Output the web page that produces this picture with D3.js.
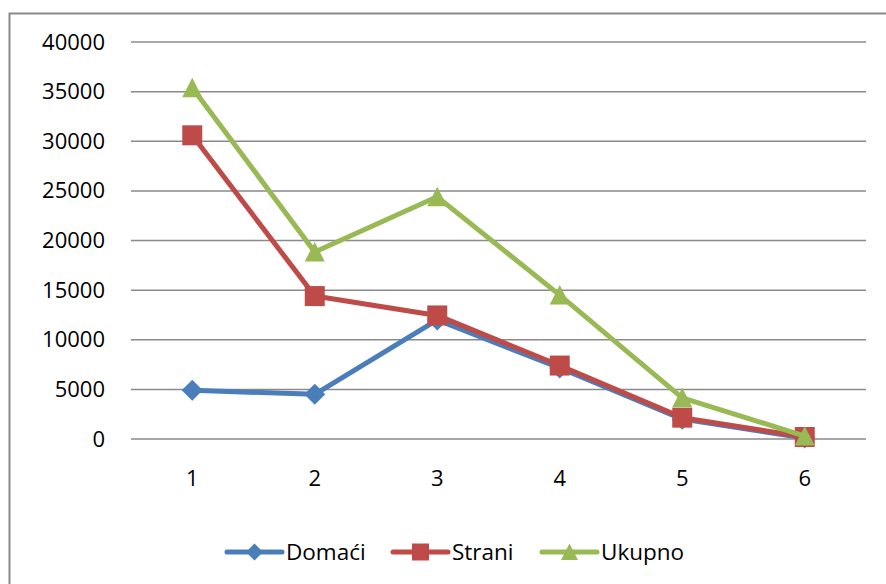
<!DOCTYPE html>
<html>
<head>
<meta charset="utf-8">
<script src="https://cdn.jsdelivr.net/npm/d3@7"></script>
<style>
  body { margin: 0; background: #fff; }
  text { font-family: "Open Sans", sans-serif; fill: #000; }
</style>
</head>
<body>
<div id="chart"></div>
<script>
// data
var categories = ["1", "2", "3", "4", "5", "6"];
var domaci = [4900, 4500, 12000, 7150, 2000, 100];
var strani = [30600, 14400, 12450, 7400, 2150, 200];
var ukupno = [35400, 18850, 24400, 14500, 4150, 300];
var yTicks = [0, 5000, 10000, 15000, 20000, 25000, 30000, 35000, 40000];

var series = [
  {name: "Domaći", values: domaci, color: "#4A7EBB", marker: "diamond"},
  {name: "Strani", values: strani, color: "#BE4B48", marker: "square"},
  {name: "Ukupno", values: ukupno, color: "#98B954", marker: "triangle"}
];

var W = 886, H = 584;
var margin = {top: 42, right: 20, bottom: 145, left: 131},
    width = 866 - margin.left,
    height = 439 - margin.top;

var svg = d3.select("#chart").append("svg")
    .attr("width", W)
    .attr("height", H);

// outer chart border (runs off the right and bottom)
svg.append("rect")
    .attr("x", 9.5).attr("y", 13.5)
    .attr("width", W).attr("height", H)
    .attr("fill", "none")
    .attr("stroke", "#898989")
    .attr("stroke-width", 2);

var g = svg.append("g")
    .attr("transform", "translate(" + margin.left + "," + margin.top + ")");

var x = d3.scaleBand().domain(categories).range([0, width]);
var y = d3.scaleLinear().domain([0, 40000]).range([height, 0]);

// gridlines
g.selectAll(".grid")
    .data(yTicks)
  .enter().append("line")
    .attr("class", "grid")
    .attr("x1", 0).attr("x2", width)
    .attr("y1", function(d) { return y(d); })
    .attr("y2", function(d) { return y(d); })
    .attr("stroke", "#8a8a8a")
    .attr("stroke-width", 1.5);

// y labels
var yAxis = d3.axisLeft(y).tickValues(yTicks).tickSize(0).tickPadding(26)
    .tickFormat(function(d) { return d; });
g.append("g").call(yAxis)
    .call(function(s) { s.select(".domain").remove(); })
    .selectAll("text")
    .style("font-size", "22px")
    .attr("fill", "#000");

// x labels
var xAxis = d3.axisBottom(x).tickSize(0).tickPadding(31);
g.append("g")
    .attr("transform", "translate(0," + height + ")")
    .call(xAxis)
    .call(function(s) { s.select(".domain").remove(); })
    .selectAll("text")
    .style("font-size", "22px")
    .attr("fill", "#000");

var cx = function(i) { return x(categories[i]) + x.bandwidth() / 2; };

function markerPath(type, size) {
  var h = size / 2;
  if (type === "diamond") return "M0," + (-h) + "L" + h + ",0L0," + h + "L" + (-h) + ",0Z";
  if (type === "square") return "M" + (-h) + "," + (-h) + "H" + h + "V" + h + "H" + (-h) + "Z";
  return "M0," + (-h) + "L" + h + "," + (h * 0.95) + "L" + (-h) + "," + (h * 0.95) + "Z";
}

var line = d3.line()
    .x(function(d, i) { return cx(i); })
    .y(function(d) { return y(d); });

series.forEach(function(s) {
  g.append("path")
      .datum(s.values)
      .attr("d", line)
      .attr("fill", "none")
      .attr("stroke", s.color)
      .attr("stroke-width", 5)
      .attr("stroke-linejoin", "round");

  g.selectAll(".m-" + s.marker)
      .data(s.values)
    .enter().append("path")
      .attr("class", "m-" + s.marker)
      .attr("transform", function(d, i) { return "translate(" + cx(i) + "," + y(d) + ")"; })
      .attr("d", markerPath(s.marker, s.marker === "diamond" ? 21 : 20))
      .attr("fill", s.color);
});

// legend
var legendX = [227, 393, 542];
var legend = svg.selectAll(".legend")
    .data(series)
  .enter().append("g")
    .attr("class", "legend")
    .attr("transform", function(d, i) { return "translate(" + legendX[i] + ",552)"; });

legend.append("line")
    .attr("x1", 0).attr("x2", 55)
    .attr("stroke", function(d) { return d.color; })
    .attr("stroke-width", 5)
    .attr("stroke-linecap", "round");

legend.append("path")
    .attr("transform", "translate(27.5,0)")
    .attr("d", function(d) { return markerPath(d.marker, 17); })
    .attr("fill", function(d) { return d.color; });

legend.append("text")
    .attr("x", 59)
    .attr("dy", "0.35em")
    .style("font-size", "22.5px")
    .text(function(d) { return d.name; });
</script>
</body>
</html>
